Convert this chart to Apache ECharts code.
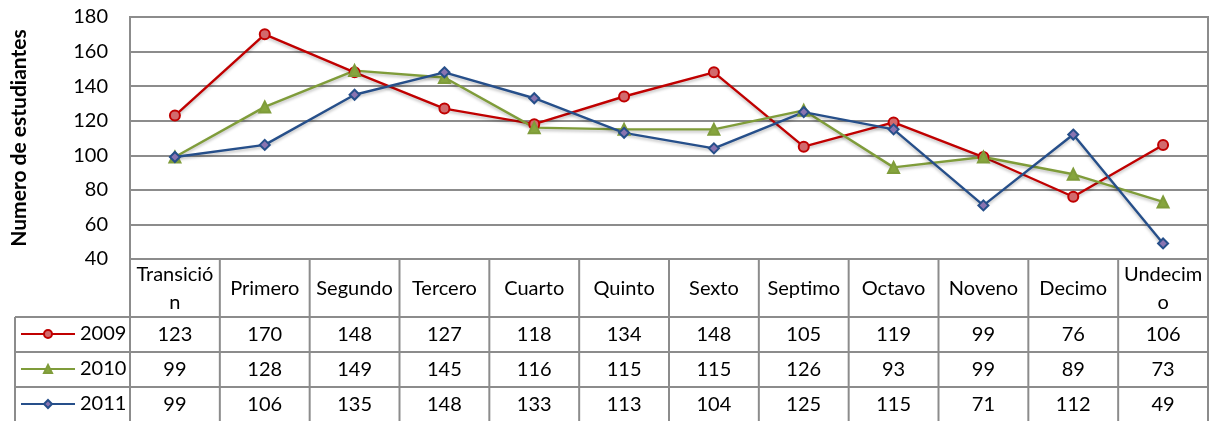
<!DOCTYPE html>
<html>
<head>
<meta charset="utf-8">
<script src="https://cdn.jsdelivr.net/npm/echarts@6/dist/echarts.min.js"></script>
<style>
  html, body { margin: 0; padding: 0; background: #fff; }
  #chart { width: 1211px; height: 421px; }
</style>
</head>
<body>
<div id="chart"></div>
<script>
// ========== 数据 ==========
const grados = ["Transición", "Primero", "Segundo", "Tercero", "Cuarto", "Quinto",
  "Sexto", "Septimo", "Octavo", "Noveno", "Decimo", "Undecimo"];
const anios = ["2009", "2010", "2011"];
const serie2009 = [123, 170, 148, 127, 118, 134, 148, 105, 119, 99, 76, 106];
const serie2010 = [99, 128, 149, 145, 116, 115, 115, 126, 93, 99, 89, 73];
const serie2011 = [99, 106, 135, 148, 133, 113, 104, 125, 115, 71, 112, 49];
const yTicks = [40, 60, 80, 100, 120, 140, 160, 180];

// ========== 布局 ==========
const FONT = "Lato";
const gridLeft = 130, gridRight = 1208, gridTop = 17, gridBottom = 259;
const colW = (gridRight - gridLeft) / grados.length;
const headerBottom = 317;
const rowH = 35;
const legendLeft = 15;
const lineColor = "#8c8c8c";

const seriesData = [serie2009, serie2010, serie2011];
const estilos = [
  { line: "#c00000", fill: "#d26a6d", symbol: "circle", size: 10 },
  { line: "#7f9c3a", fill: "#86a53e", symbol: "triangle", size: 11 },
  { line: "#264f8a", fill: "#8a74b0", symbol: "diamond", size: 10 },
];

const chart = echarts.init(document.getElementById("chart"));

// tabla de datos (graphic)
const graphics = [];
function hline(x1, x2, y) {
  graphics.push({ type: "line", silent: true,
    shape: { x1, y1: y, x2, y2: y },
    style: { stroke: lineColor, lineWidth: 2 } });
}
function vline(x, y1, y2) {
  graphics.push({ type: "line", silent: true,
    shape: { x1: x, y1, x2: x, y2 },
    style: { stroke: lineColor, lineWidth: 2 } });
}
for (let i = 0; i <= grados.length; i++) vline(gridLeft + i * colW, gridBottom, 421);
vline(legendLeft, headerBottom, 421);
hline(gridLeft, gridRight, gridBottom);
for (let r = 0; r <= anios.length; r++) hline(legendLeft, gridRight, headerBottom + r * rowH);

grados.forEach((g, i) => {
  graphics.push({ type: "text", silent: true,
    x: gridLeft + (i + 0.5) * colW, y: (gridBottom + headerBottom) / 2 + 1,
    style: { text: g, font: `20px ${FONT}`, fill: "#000", align: "center",
      verticalAlign: "middle", width: colW - 1, overflow: "breakAll", lineHeight: 28 } });
});
seriesData.forEach((vals, r) => {
  const cy = headerBottom + (r + 0.5) * rowH;
  vals.forEach((v, i) => {
    graphics.push({ type: "text", silent: true,
      x: gridLeft + (i + 0.5) * colW, y: cy,
      style: { text: String(v), font: `20px ${FONT}`, fill: "#000",
        align: "center", verticalAlign: "middle" } });
  });
});

chart.setOption({
  animation: false,
  textStyle: { fontFamily: FONT },
  grid: { left: gridLeft, right: 1211 - gridRight, top: gridTop, height: gridBottom - gridTop,
    show: true, borderColor: lineColor, borderWidth: 2 },
  legend: anios.map((a, r) => ({
    data: [a], left: 20, top: headerBottom + r * rowH + 7,
    itemWidth: 54, itemHeight: 10, itemGap: 2, padding: 0,
    textStyle: { fontSize: 20, color: "#000", fontFamily: FONT, padding: [0, 0, 0, 0] },
    selectedMode: false,
  })),
  xAxis: {
    type: "category", data: grados, boundaryGap: true,
    axisLine: { show: false }, axisTick: { show: false }, axisLabel: { show: false },
  },
  yAxis: {
    type: "value", min: 40, max: 180, interval: 20,
    name: "Numero de estudiantes", nameLocation: "middle", nameGap: 100,
    nameTextStyle: { fontSize: 21, fontWeight: "bold", color: "#000", fontFamily: FONT },
    axisLine: { show: true, lineStyle: { color: lineColor, width: 2 } },
    axisTick: { show: false },
    axisLabel: { fontSize: 20, color: "#000", margin: 22,
      formatter: (v) => (yTicks.includes(v) ? String(v) : "") },
    splitLine: { lineStyle: { color: lineColor, width: 2 } },
  },
  series: anios.map((a, r) => ({
    name: a, type: "line", data: seriesData[r],
    symbol: estilos[r].symbol, symbolSize: estilos[r].size,
    lineStyle: { color: estilos[r].line, width: 2.4,
      shadowColor: "rgba(0,0,0,0.25)", shadowBlur: 3, shadowOffsetY: 2 },
    itemStyle: { color: estilos[r].fill, borderColor: estilos[r].line, borderWidth: 2 },
  })),
  graphic: graphics,
});

window.addEventListener("resize", () => chart.resize());
</script>
</body>
</html>
